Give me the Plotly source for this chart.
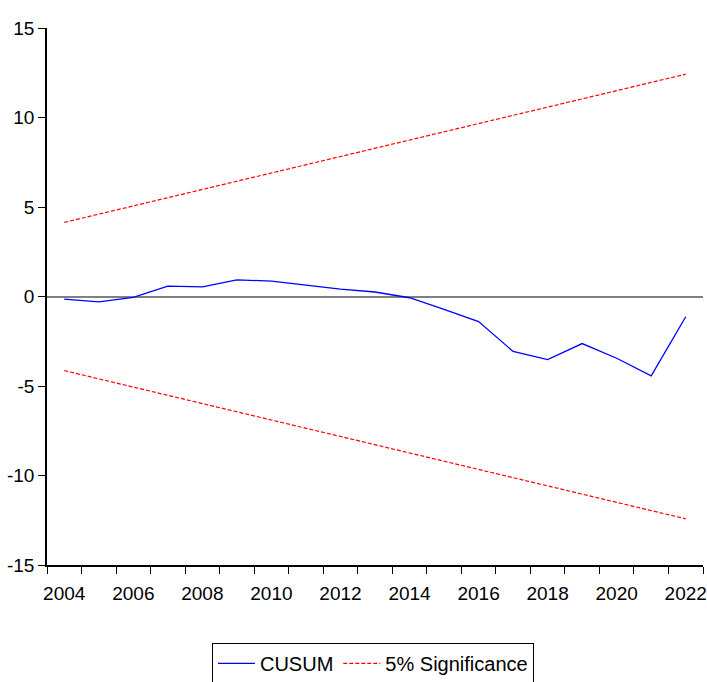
import plotly.graph_objects as go

years = list(range(2004, 2023))
cusum = [-0.15, -0.30, -0.05, 0.58, 0.54, 0.93, 0.86, 0.65, 0.41, 0.25,
         -0.07, -0.72, -1.40, -3.07, -3.52, -2.63, -3.45, -4.43, -1.13]
upper = [4.14, 4.60, 5.06, 5.52, 5.98, 6.44, 6.90, 7.36, 7.82, 8.28,
         8.74, 9.20, 9.66, 10.12, 10.58, 11.04, 11.50, 11.96, 12.42]
lower = [-v for v in upper]
x_ticks = [2004, 2006, 2008, 2010, 2012, 2014, 2016, 2018, 2020, 2022]
x_tick_text = [str(v) for v in x_ticks]
x_bounds = [y - 0.5 for y in years] + [years[-1] + 0.5]
y_ticks = [-15, -10, -5, 0, 5, 10, 15]
y_tick_text = ["-15", "-10", "-5", "0", "5", "10", "15"]

FONT = "Liberation Sans Narrow, Arial Narrow, Liberation Sans, Arial, sans-serif"
FS = 19

fig = go.Figure()
fig.add_trace(go.Scatter(x=years, y=cusum, mode="lines", name="CUSUM",
                         line=dict(color="#0000ff", width=1.3)))
fig.add_trace(go.Scatter(x=years, y=upper, mode="lines", name="5% Significance",
                         line=dict(color="#ff0000", width=1.2, dash="4px,2px")))
fig.add_trace(go.Scatter(x=years, y=lower, mode="lines", name="lower",
                         showlegend=False,
                         line=dict(color="#ff0000", width=1.2, dash="4px,2px")))

fig.update_layout(
    width=707, height=682,
    margin=dict(l=47, r=4, t=28, b=117, autoexpand=False),
    paper_bgcolor="white", plot_bgcolor="white",
    font=dict(family=FONT, size=FS, color="black"),
    showlegend=True,
    legend=dict(orientation="h", x=0.2515, y=-0.145, xanchor="left", yanchor="top",
                bordercolor="black", borderwidth=1, bgcolor="white",
                font=dict(family=FONT, size=FS + 1, color="black"),
                itemwidth=37, traceorder="normal"),
)
fig.update_xaxes(range=[2003.5, 2022.5], tickmode="array", tickvals=x_ticks,
                 ticktext=x_tick_text, ticks="", showgrid=False, zeroline=False,
                 showline=True, linecolor="black", linewidth=1.5,
                 ticklabelstandoff=10, ticklabeloverflow="allow",
                 minor=dict(tickmode="array", tickvals=x_bounds, ticks="outside",
                            ticklen=7, tickwidth=1, tickcolor="black", showgrid=False))
fig.update_yaxes(range=[-15, 15], tickmode="array", tickvals=y_ticks,
                 ticktext=y_tick_text,
                 ticks="outside", ticklen=7, tickwidth=1, tickcolor="black",
                 showgrid=False, zeroline=True, zerolinecolor="#808080",
                 zerolinewidth=1.5, showline=True, linecolor="black", linewidth=1.5,
                 ticklabeloverflow="allow")

fig.write_html("out.html", config={"displayModeBar": False},
               post_script="document.body.style.margin='0px';")
